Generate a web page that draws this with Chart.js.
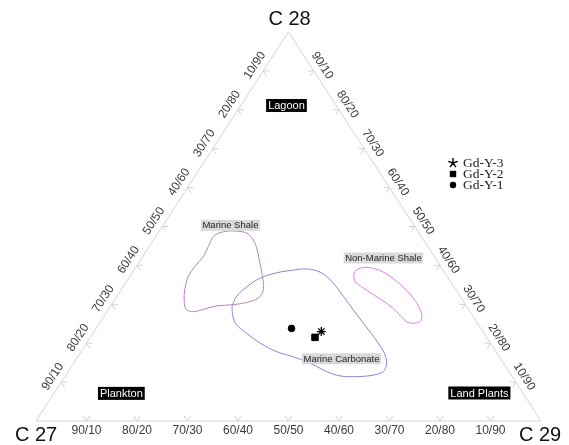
<!DOCTYPE html>
<html><head><meta charset="utf-8">
<script src="https://cdn.jsdelivr.net/npm/chart.js@4/dist/chart.umd.min.js"></script>
<style>html,body{margin:0;padding:0;background:#fff}#wrap{width:569px;height:445px;position:relative}</style>
</head><body><div id="wrap"><canvas id="c" width="569" height="445"></canvas></div>
<script>
// ---- data (compositions are [C27, C28, C29] in %) ----
const componentNames = ['C 27', 'C 28', 'C 29'];
const tickLabels = ['90/10','80/20','70/30','60/40','50/50','40/60','30/70','20/80','10/90'];
const seriesNames = ['Gd-Y-3', 'Gd-Y-2', 'Gd-Y-1'];
const gdY3 = [[32.0, 23.0, 45.0]];
const gdY2 = [[34.0, 21.5, 44.5]];
const gdY1 = [[37.5, 23.8, 38.7]];
const regionNames = ['Marine Shale', 'Non-Marine Shale', 'Marine Carbonate'];
const cornerNames = ['Lagoon', 'Plankton', 'Land Plants'];
const marineShale = [
 [39.4,48.4,12.2],[41.2,47.4,11.4],[43.5,44.8,11.7],[45.8,42.2,12.0],[48.7,39.7,11.6],
 [51.3,37.1,11.6],[53.7,33.7,12.6],[55.3,30.7,14.0],[55.9,28.7,15.4],[54.8,28.1,17.1],
 [52.5,28.7,18.8],[49.4,29.6,21.0],[46.0,29.9,24.1],[42.3,30.7,27.0],[39.6,32.0,28.4],
 [37.9,34.1,28.0],[36.6,37.1,26.3],[35.4,40.5,24.1],[34.2,44.0,21.8],[33.7,46.5,19.8],
 [34.1,48.3,17.6],[35.9,48.8,15.3],[37.8,48.8,13.4]
];
const marineCarbonate = [
 [46.5,29.4,24.1],[44.3,32.0,23.7],[41.0,34.5,24.5],[37.3,36.7,26.0],[33.3,38.1,28.6],
 [29.6,38.8,31.6],[26.9,39.1,34.0],[25.1,38.6,36.3],[24.0,37.5,38.5],[23.4,35.4,41.2],
 [23.1,32.0,44.9],[22.9,28.5,48.6],[22.6,25.1,52.3],[22.3,21.7,56.0],[22.2,18.7,59.1],
 [22.5,16.5,61.0],[23.4,14.4,62.2],[24.9,12.7,62.4],[27.3,11.8,60.9],[30.8,11.4,57.8],
 [34.0,11.6,54.4],[36.1,12.7,51.2],[37.4,14.0,48.6],[38.8,15.2,46.0],[40.8,16.5,42.7],
 [43.4,17.8,38.8],[45.6,20.0,34.4],[47.0,22.5,30.5],[47.9,24.7,27.4],[47.6,26.8,25.6]
];
const nonMarineShale = [
 [18.2,37.8,44.0],[17.0,38.9,44.1],[15.3,39.5,45.2],[13.5,39.2,47.3],[12.0,38.2,49.8],
 [10.9,36.5,52.6],[10.0,34.2,55.8],[9.5,31.6,58.9],[9.5,29.3,61.2],[10.0,27.2,62.8],
 [10.9,25.8,63.3],[12.0,25.2,62.8],[13.3,25.2,61.5],[14.0,25.8,60.2],[14.5,28.0,57.5],
 [15.4,30.2,54.4],[16.9,32.4,50.7],[18.2,34.4,47.4],[18.9,35.9,45.2]
];

// ---- helpers ----
function toXY(t) {
  const s = t[0] + t[1] + t[2];
  const b = t[1] / s, c = t[2] / s;
  return { x: c + b / 2, y: b };
}
const closed = arr => arr.concat([arr[0]]).map(toXY);
const vertices = [[100,0,0],[0,100,0],[0,0,100]];

// label anchors in plot fractions (x along base, y = C28 fraction)
const annotations = [
  { text: cornerNames[0], x: 0.496, y: 0.811, style: 'dark' },
  { text: cornerNames[1], x: 0.169, y: 0.071, style: 'dark' },
  { text: cornerNames[2], x: 0.878, y: 0.072, style: 'dark' },
  { text: regionNames[0], x: 0.385, y: 0.503, style: 'light' },
  { text: regionNames[1], x: 0.688, y: 0.419, style: 'light' },
  { text: regionNames[2], x: 0.605, y: 0.160, style: 'light' }
];

function drawMarker(ctx, style, x, y) {
  ctx.save();
  ctx.fillStyle = '#000'; ctx.strokeStyle = '#000';
  if (style === 'circle') { ctx.beginPath(); ctx.arc(x, y, 3.2, 0, Math.PI * 2); ctx.fill(); }
  else if (style === 'rect') { ctx.fillRect(x - 3.2, y - 3.2, 6.4, 6.4); }
  else {
    ctx.lineWidth = 1.4; ctx.beginPath();
    for (let i = 0; i < 5; i++) {
      const a = -Math.PI / 2 + i * 2 * Math.PI / 5;
      ctx.moveTo(x, y); ctx.lineTo(x + 5 * Math.cos(a), y + 5 * Math.sin(a));
    }
    ctx.stroke();
  }
  ctx.restore();
}

const ternaryDecor = {
  id: 'ternaryDecor',
  beforeDatasetsDraw(chart) {
    const ctx = chart.ctx, xs = chart.scales.x, ys = chart.scales.y;
    const P = t => { const q = toXY(t); return { x: xs.getPixelForValue(q.x), y: ys.getPixelForValue(q.y) }; };
    const L = P(vertices[0]), T = P(vertices[1]), R = P(vertices[2]);
    const unit = (a, b) => { const dx = b.x - a.x, dy = b.y - a.y, n = Math.hypot(dx, dy); return { x: dx / n, y: dy / n }; };
    const len = 6;
    ctx.save();
    ctx.strokeStyle = '#cfcfcf'; ctx.lineWidth = 1;
    ctx.font = '12px "Liberation Sans", Arial, sans-serif';
    ctx.fillStyle = '#3a3a3a'; ctx.textAlign = 'center'; ctx.textBaseline = 'middle';
    const stub = (p, d) => { ctx.beginPath(); ctx.moveTo(p.x, p.y); ctx.lineTo(p.x + d.x * len, p.y + d.y * len); ctx.stroke(); };
    const edges = [
      { a: L, b: T, pt: k => [100 - 10 * k, 10 * k, 0], dirs: [unit(L, R), unit(T, R)] },
      { a: T, b: R, pt: k => [0, 100 - 10 * k, 10 * k], dirs: [unit(R, L), unit(T, L)] },
      { a: R, b: L, pt: k => [100 - 10 * k, 0, 10 * k], dirs: [unit(L, T), unit(R, T)] }
    ];
    edges.forEach((e, ei) => {
      const d = unit(e.a, e.b);
      const n = { x: d.y, y: -d.x };
      tickLabels.forEach((lab, i) => {
        const k = i + 1;
        const p = P(e.pt(k));
        e.dirs.forEach(dd => stub(p, dd));
        ctx.save();
        if (ei === 2) {
          ctx.translate(p.x, p.y + 10);
        } else {
          ctx.translate(p.x + n.x * 10, p.y + n.y * 10);
          ctx.rotate(ei === 0 ? Math.atan2(T.y - L.y, T.x - L.x) : Math.atan2(R.y - T.y, R.x - T.x));
        }
        ctx.fillText(lab, 0, 0);
        ctx.restore();
      });
    });
    // vertex titles
    ctx.fillStyle = '#111';
    ctx.font = '20px "Liberation Sans", Arial, sans-serif';
    ctx.fillText(componentNames[1], T.x + 1, T.y - 13);
    ctx.fillText(componentNames[0], L.x, L.y + 14);
    ctx.fillText(componentNames[2], R.x - 1, R.y + 14);
    ctx.restore();
  },
  afterDatasetsDraw(chart) {
    const ctx = chart.ctx, xs = chart.scales.x, ys = chart.scales.y;
    ctx.save();
    ctx.textAlign = 'center'; ctx.textBaseline = 'middle';
    annotations.forEach(a => {
      const x = xs.getPixelForValue(a.x), y = ys.getPixelForValue(a.y);
      if (a.style === 'dark') {
        ctx.font = '11px "Liberation Sans", Arial, sans-serif';
        const w = ctx.measureText(a.text).width + 4;
        ctx.fillStyle = '#000'; ctx.fillRect(x - w / 2, y - 6.5, w, 13);
        ctx.fillStyle = '#fff'; ctx.fillText(a.text, x, y + 0.5);
      } else {
        ctx.font = '9.5px "Liberation Sans", Arial, sans-serif';
        const w = ctx.measureText(a.text).width + 3;
        ctx.fillStyle = '#d9d9d9'; ctx.fillRect(x - w / 2, y - 5.5, w, 11);
        ctx.fillStyle = '#222'; ctx.fillText(a.text, x, y + 0.5);
      }
    });
    // legend
    const styles = ['star', 'rect', 'circle'];
    ctx.font = '13.5px "Liberation Serif", "Times New Roman", serif';
    ctx.textAlign = 'left';
    seriesNames.forEach((nm, i) => {
      const y = 163 + i * 11;
      drawMarker(ctx, styles[i], 453, y);
      ctx.fillStyle = '#222';
      ctx.fillText(nm, 463, y + 0.5);
    });
    ctx.restore();
  }
};

const ds = (label, pts, color) => ({
  label, data: closed(pts), showLine: true, borderColor: color, borderWidth: 1,
  pointRadius: 0, tension: 0.35, fill: false, clip: false
});

new Chart(document.getElementById('c'), {
  type: 'scatter',
  data: {
    datasets: [
      { label: 'frame', data: vertices.concat([vertices[0]]).map(toXY), showLine: true,
        borderColor: '#d4d4d4', borderWidth: 1, pointRadius: 0, clip: false },
      ds(regionNames[0], marineShale, '#b583c0'),
      ds(regionNames[2], marineCarbonate, '#8a86d6'),
      ds(regionNames[1], nonMarineShale, '#e27ee4'),
      { label: seriesNames[2], data: gdY1.map(toXY), pointStyle: 'circle', pointRadius: 3.3,
        backgroundColor: '#000', borderColor: '#000', clip: false },
      { label: seriesNames[1], data: gdY2.map(toXY), pointStyle: 'rect', pointRadius: 4.6,
        backgroundColor: '#000', borderColor: '#000', clip: false },
      { label: seriesNames[0], data: gdY3.map(toXY), pointStyle: 'star', pointRadius: 4.5,
        borderWidth: 1.3, backgroundColor: '#000', borderColor: '#000', clip: false }
    ]
  },
  options: {
    responsive: false, animation: false, devicePixelRatio: 1, events: [],
    layout: { padding: { left: 36, right: 28, top: 32, bottom: 24 } },
    scales: {
      x: { type: 'linear', min: 0, max: 1, display: false },
      y: { type: 'linear', min: 0, max: 1, display: false }
    },
    plugins: { legend: { display: false }, tooltip: { enabled: false } }
  },
  plugins: [ternaryDecor]
});
</script>
</body></html>
